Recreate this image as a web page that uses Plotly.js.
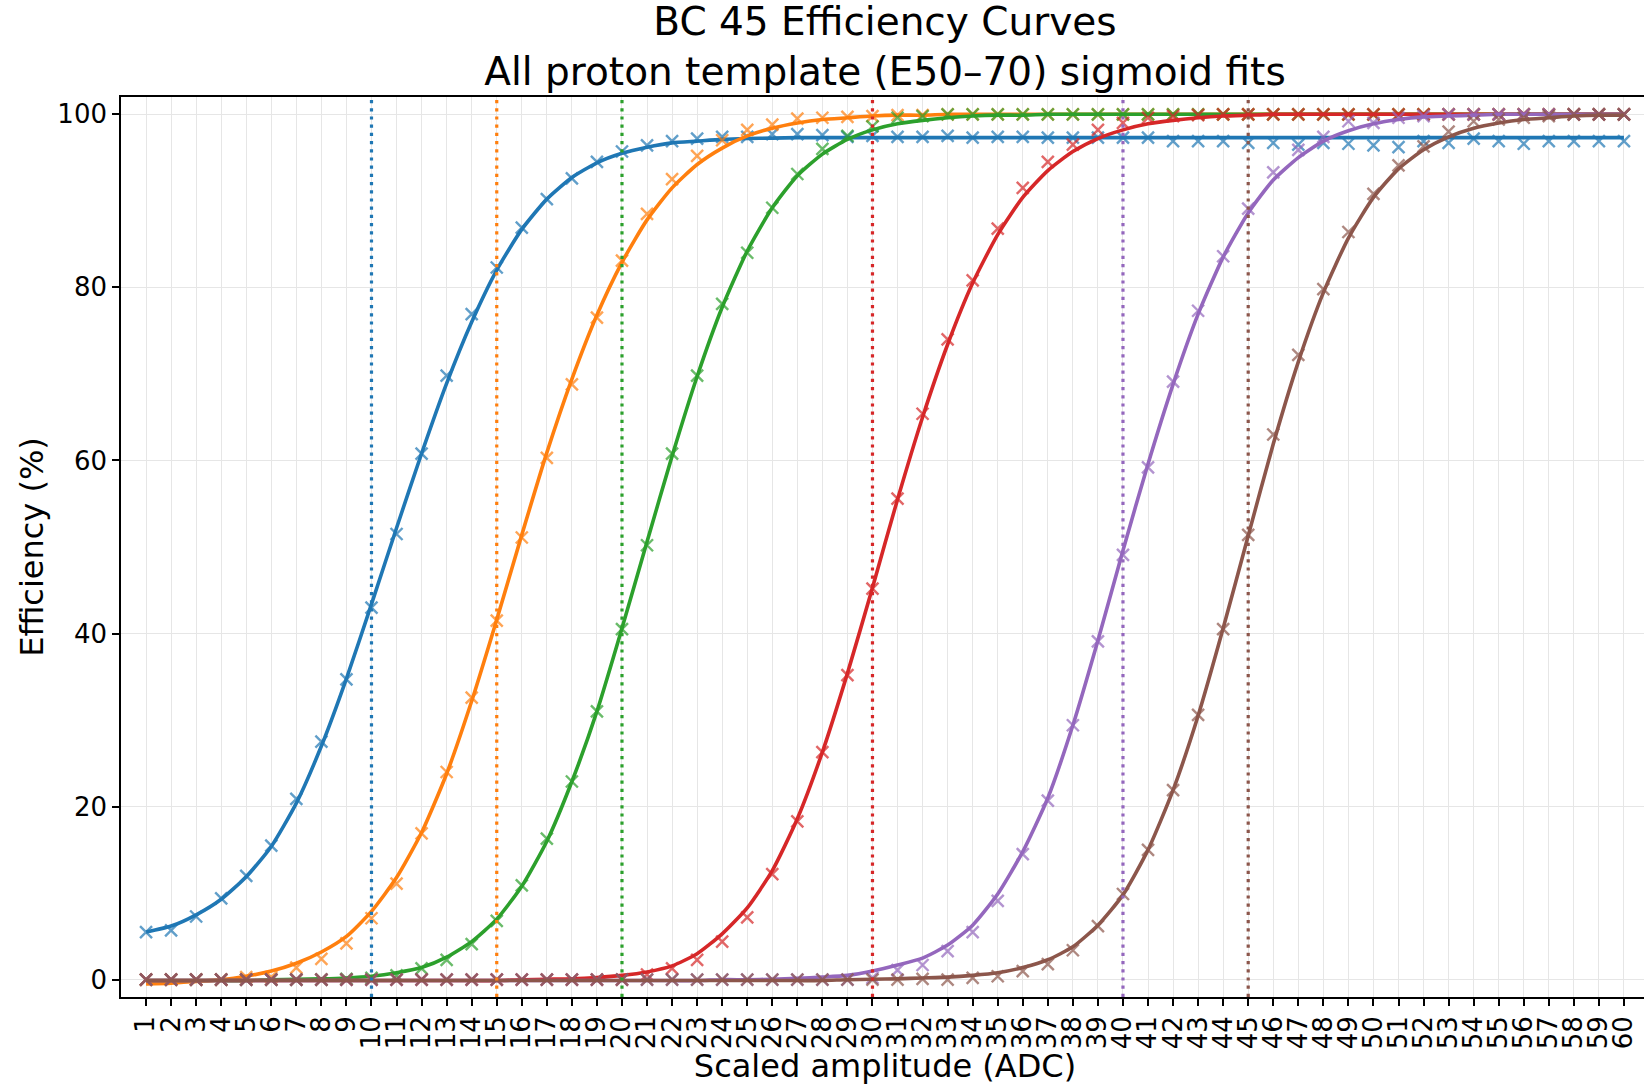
<!DOCTYPE html>
<html>
<head>
<meta charset="utf-8">
<script src="https://cdn.plot.ly/plotly-3.0.1.min.js"></script>
<style>
  html, body { margin: 0; padding: 0; overflow: hidden; background: #ffffff; }
  #chart { width: 1660px; height: 1085px; }
</style>
</head>
<body>
<div id="chart"></div>
<script>
// ---------- data ----------
const adc = Array.from({length: 60}, (_, i) => i + 1);   // tick positions 1..60
const tickLabels = adc.map(String);

const seriesNames = ["BC 10", "BC 15", "BC 20", "BC 30", "BC 40", "BC 45"];
const seriesColors = ["#1f77b4", "#ff7f0e", "#2ca02c", "#d62728", "#9467bd", "#8c564b"];
const thresholds = [10, 15, 20, 30, 40, 45];

// measured efficiencies (markers)
const effBlue = [5.5, 5.7, 7.3, 9.4, 12.0, 15.5, 20.9, 27.5, 34.7, 43.0,
  51.5, 60.8, 69.8, 76.9, 82.3, 86.9, 90.2, 92.6, 94.5, 95.7,
  96.4, 96.9, 97.2, 97.4, 97.4, 97.7, 97.7, 97.6, 97.4, 97.5,
  97.4, 97.4, 97.5, 97.3, 97.4, 97.4, 97.3, 97.3, 97.3, 97.3,
  97.3, 96.9, 96.9, 96.9, 96.7, 96.7, 96.5, 96.7, 96.6, 96.4,
  96.2, 96.9, 96.7, 97.2, 96.9, 96.6, 96.9, 96.9, 96.9, 96.9];
const effOrange = [0, 0, 0, 0, 0.3, 0.3, 1.4, 2.4, 4.2, 7.1,
  11.1, 16.9, 24.0, 32.6, 41.5, 51.1, 60.3, 68.8, 76.5, 83.1,
  88.5, 92.5, 95.2, 97.0, 98.2, 98.8, 99.5, 99.6, 99.7, 99.8,
  99.9, 99.9, 100, 100, 100, 100, 100, 100, 100, 100,
  100, 100, 100, 100, 100, 100, 100, 100, 100, 100,
  100, 100, 100, 100, 100, 100, 100, 100, 100, 100];
const effGreen = [0, 0, 0, 0, 0, 0, 0, 0, 0.1, 0.2,
  0.5, 1.3, 2.3, 4.1, 6.8, 10.9, 16.3, 22.9, 31.0, 40.5,
  50.2, 60.8, 69.8, 78.1, 84.0, 89.2, 93.1, 96.0, 97.5, 98.6,
  99.6, 99.8, 100, 100, 100, 100, 100, 100, 100, 100,
  100, 100, 100, 100, 100, 100, 100, 100, 100, 100,
  100, 100, 100, 100, 100, 100, 100, 100, 100, 100];
const effRed = [0, 0, 0, 0, 0, 0, 0, 0, 0, 0,
  0, 0, 0, 0, 0, 0, 0, 0, 0, 0,
  0.6, 1.3, 2.3, 4.4, 7.2, 12.2, 18.3, 26.3, 35.2, 45.2,
  55.6, 65.4, 74.0, 80.8, 86.8, 91.5, 94.5, 96.5, 98.2, 99.0,
  99.6, 99.8, 99.9, 100, 100, 100, 100, 100, 100, 100,
  100, 100, 100, 100, 100, 100, 100, 100, 100, 100];
const effPurple = [0, 0, 0, 0, 0, 0, 0, 0, 0, 0,
  0, 0, 0, 0, 0, 0, 0, 0, 0, 0,
  0, 0, 0, 0, 0, 0, 0, 0, 0, 0.2,
  1.1, 1.7, 3.3, 5.5, 9.1, 14.5, 20.7, 29.4, 39.1, 49.1,
  59.2, 69.1, 77.3, 83.6, 89.1, 93.3, 95.9, 97.4, 99.2, 99.0,
  99.6, 99.8, 100, 100, 100, 100, 100, 100, 100, 100];
const effBrown = [0, 0, 0, 0, 0, 0, 0, 0, 0, 0,
  0, 0, 0, 0, 0, 0, 0, 0, 0, 0,
  0, 0, 0, 0, 0, 0, 0, 0, 0, 0,
  0, 0.1, 0, 0.2, 0.4, 1.0, 1.8, 3.4, 6.2, 9.9,
  15.0, 21.9, 30.6, 40.5, 51.4, 63.0, 72.2, 79.8, 86.4, 90.8,
  94.1, 96.3, 98.0, 99.2, 99.4, 99.6, 99.8, 100, 100, 100];

// sigmoid fit curves at each integer ADC
const fitBlue = [5.5, 6.2, 7.5, 9.3, 11.9, 15.4, 20.4, 27.0, 34.8, 43.4,
  52.2, 60.8, 68.9, 76.0, 82.0, 86.7, 90.2, 92.7, 94.4, 95.5,
  96.2, 96.7, 96.9, 97.1, 97.2, 97.25, 97.3, 97.3, 97.3, 97.3,
  97.3, 97.3, 97.3, 97.3, 97.3, 97.3, 97.3, 97.3, 97.3, 97.3,
  97.3, 97.3, 97.3, 97.3, 97.3, 97.3, 97.3, 97.3, 97.3, 97.3,
  97.3, 97.3, 97.3, 97.3, 97.3, 97.3, 97.3, 97.3, 97.3, 97.3];
const fitOrange = [-0.5, -0.4, -0.2, 0.0, 0.4, 1.0, 1.9, 3.2, 5.0, 7.9,
  11.8, 17.0, 23.8, 32.2, 41.6, 51.4, 60.9, 69.4, 76.8, 82.9,
  87.8, 91.5, 94.2, 96.1, 97.5, 98.4, 99.0, 99.4, 99.6, 99.8,
  99.9, 99.9, 100, 100, 100, 100, 100, 100, 100, 100,
  100, 100, 100, 100, 100, 100, 100, 100, 100, 100,
  100, 100, 100, 100, 100, 100, 100, 100, 100, 100];
const fitGreen = [-0.1, -0.1, -0.1, -0.1, -0.1, 0.0, 0.05, 0.1, 0.2, 0.4,
  0.8, 1.4, 2.6, 4.4, 7.0, 10.8, 16.0, 22.9, 31.0, 40.6,
  50.6, 60.5, 69.7, 77.7, 84.2, 89.2, 92.9, 95.4, 97.1, 98.2,
  98.9, 99.3, 99.6, 99.8, 99.9, 99.9, 100, 100, 100, 100,
  100, 100, 100, 100, 100, 100, 100, 100, 100, 100,
  100, 100, 100, 100, 100, 100, 100, 100, 100, 100];
const fitRed = [-0.1, -0.1, -0.1, -0.1, -0.1, -0.1, -0.1, -0.1, -0.1, -0.1,
  -0.1, -0.1, -0.1, -0.1, -0.1, 0.0, 0.05, 0.1, 0.25, 0.5,
  0.9, 1.6, 3.0, 5.3, 8.3, 12.6, 18.6, 26.3, 35.4, 45.3,
  55.5, 65.0, 73.4, 80.5, 86.1, 90.4, 93.5, 95.7, 97.2, 98.2,
  98.9, 99.3, 99.6, 99.8, 99.9, 100, 100, 100, 100, 100,
  100, 100, 100, 100, 100, 100, 100, 100, 100, 100];
const fitPurple = [-0.1, -0.1, -0.1, -0.1, -0.1, -0.1, -0.1, -0.1, -0.1, -0.1,
  -0.1, -0.1, -0.1, -0.1, -0.1, -0.1, -0.1, -0.1, -0.1, -0.1,
  -0.1, -0.1, -0.1, 0.0, 0.0, 0.05, 0.15, 0.3, 0.5, 1.0,
  1.7, 2.5, 4.0, 6.3, 9.9, 14.8, 21.0, 29.4, 39.2, 49.6,
  59.6, 68.8, 76.9, 83.5, 88.6, 92.4, 95.0, 96.9, 98.1, 98.9,
  99.4, 99.7, 99.8, 99.9, 100, 100, 100, 100, 100, 100];
const fitBrown = [-0.1, -0.1, -0.1, -0.1, -0.1, -0.1, -0.1, -0.1, -0.1, -0.1,
  -0.1, -0.1, -0.1, -0.1, -0.1, -0.1, -0.1, -0.1, -0.1, -0.1,
  -0.1, -0.1, -0.1, -0.1, -0.1, -0.1, -0.1, -0.1, 0.0, 0.05,
  0.1, 0.2, 0.3, 0.5, 0.8, 1.4, 2.3, 3.8, 6.3, 9.8,
  15.0, 21.9, 30.5, 40.6, 51.3, 61.9, 71.4, 79.4, 85.7, 90.4,
  93.7, 95.9, 97.4, 98.4, 99.0, 99.4, 99.6, 99.8, 99.9, 99.9];

const effSeries = [effBlue, effOrange, effGreen, effRed, effPurple, effBrown];
const fitSeries = [fitBlue, fitOrange, fitGreen, fitRed, fitPurple, fitBrown];

// ---------- traces ----------
const FONT = "DejaVu Sans, Liberation Sans, sans-serif";
const traces = [];
for (let i = 0; i < seriesNames.length; i++) {
  traces.push({
    type: "scatter", mode: "markers", name: seriesNames[i] + " data",
    x: adc, y: effSeries[i], showlegend: false, hoverinfo: "x+y",
    marker: {symbol: "x-thin", size: 12, opacity: 0.7,
             color: seriesColors[i], line: {color: seriesColors[i], width: 2.4}}
  });
  traces.push({
    type: "scatter", mode: "lines", name: seriesNames[i] + " fit",
    x: adc, y: fitSeries[i], showlegend: false, hoverinfo: "x+y",
    line: {color: seriesColors[i], width: 3.6, shape: "spline", smoothing: 0.6}
  });
}

const shapes = thresholds.map((t, i) => ({
  type: "line", xref: "x", yref: "paper", x0: t, x1: t, y0: 0, y1: 1,
  layer: "above",
  line: {color: seriesColors[i], width: 3.2, dash: "3.2px,5px"}
}));

const layout = {
  width: 1660, height: 1085,
  paper_bgcolor: "#ffffff", plot_bgcolor: "#ffffff",
  margin: {l: 121, r: 11, t: 97, b: 88, pad: 0},
  font: {family: FONT, color: "#000000"},
  title: {
    text: "BC 45 Efficiency Curves<br>All proton template (E50–70) sigmoid fits",
    font: {family: FONT, size: 39, color: "#000000"},
    xref: "paper", x: 0.5, xanchor: "center",
    yref: "container", y: 0.968, yanchor: "top"
  },
  xaxis: {
    range: [0, 61], tickmode: "array", tickvals: adc, ticktext: tickLabels,
    tickangle: -90, ticks: "outside", ticklen: 7, tickwidth: 1.5, tickcolor: "#000",
    tickfont: {family: FONT, size: 26, color: "#000"},
    showline: true, linecolor: "#000", linewidth: 1.6, mirror: true,
    showgrid: true, gridcolor: "#e6e6e6", gridwidth: 1, zeroline: false,
    title: {text: "Scaled amplitude (ADC)", font: {family: FONT, size: 32, color: "#000"}, standoff: 6}
  },
  yaxis: {
    range: [-2, 102], tickmode: "array", tickvals: [0, 20, 40, 60, 80, 100],
    ticks: "outside", ticklen: 7, tickwidth: 1.5, tickcolor: "#000",
    tickfont: {family: FONT, size: 26, color: "#000"},
    showline: true, linecolor: "#000", linewidth: 1.6, mirror: false,
    showgrid: true, gridcolor: "#e6e6e6", gridwidth: 1, zeroline: false,
    title: {text: "Efficiency (%)", font: {family: FONT, size: 32, color: "#000"}, standoff: 4}
  },
  shapes: shapes,
  showlegend: false
};

Plotly.newPlot("chart", traces, layout, {displayModeBar: false, responsive: false});
</script>
</body>
</html>
